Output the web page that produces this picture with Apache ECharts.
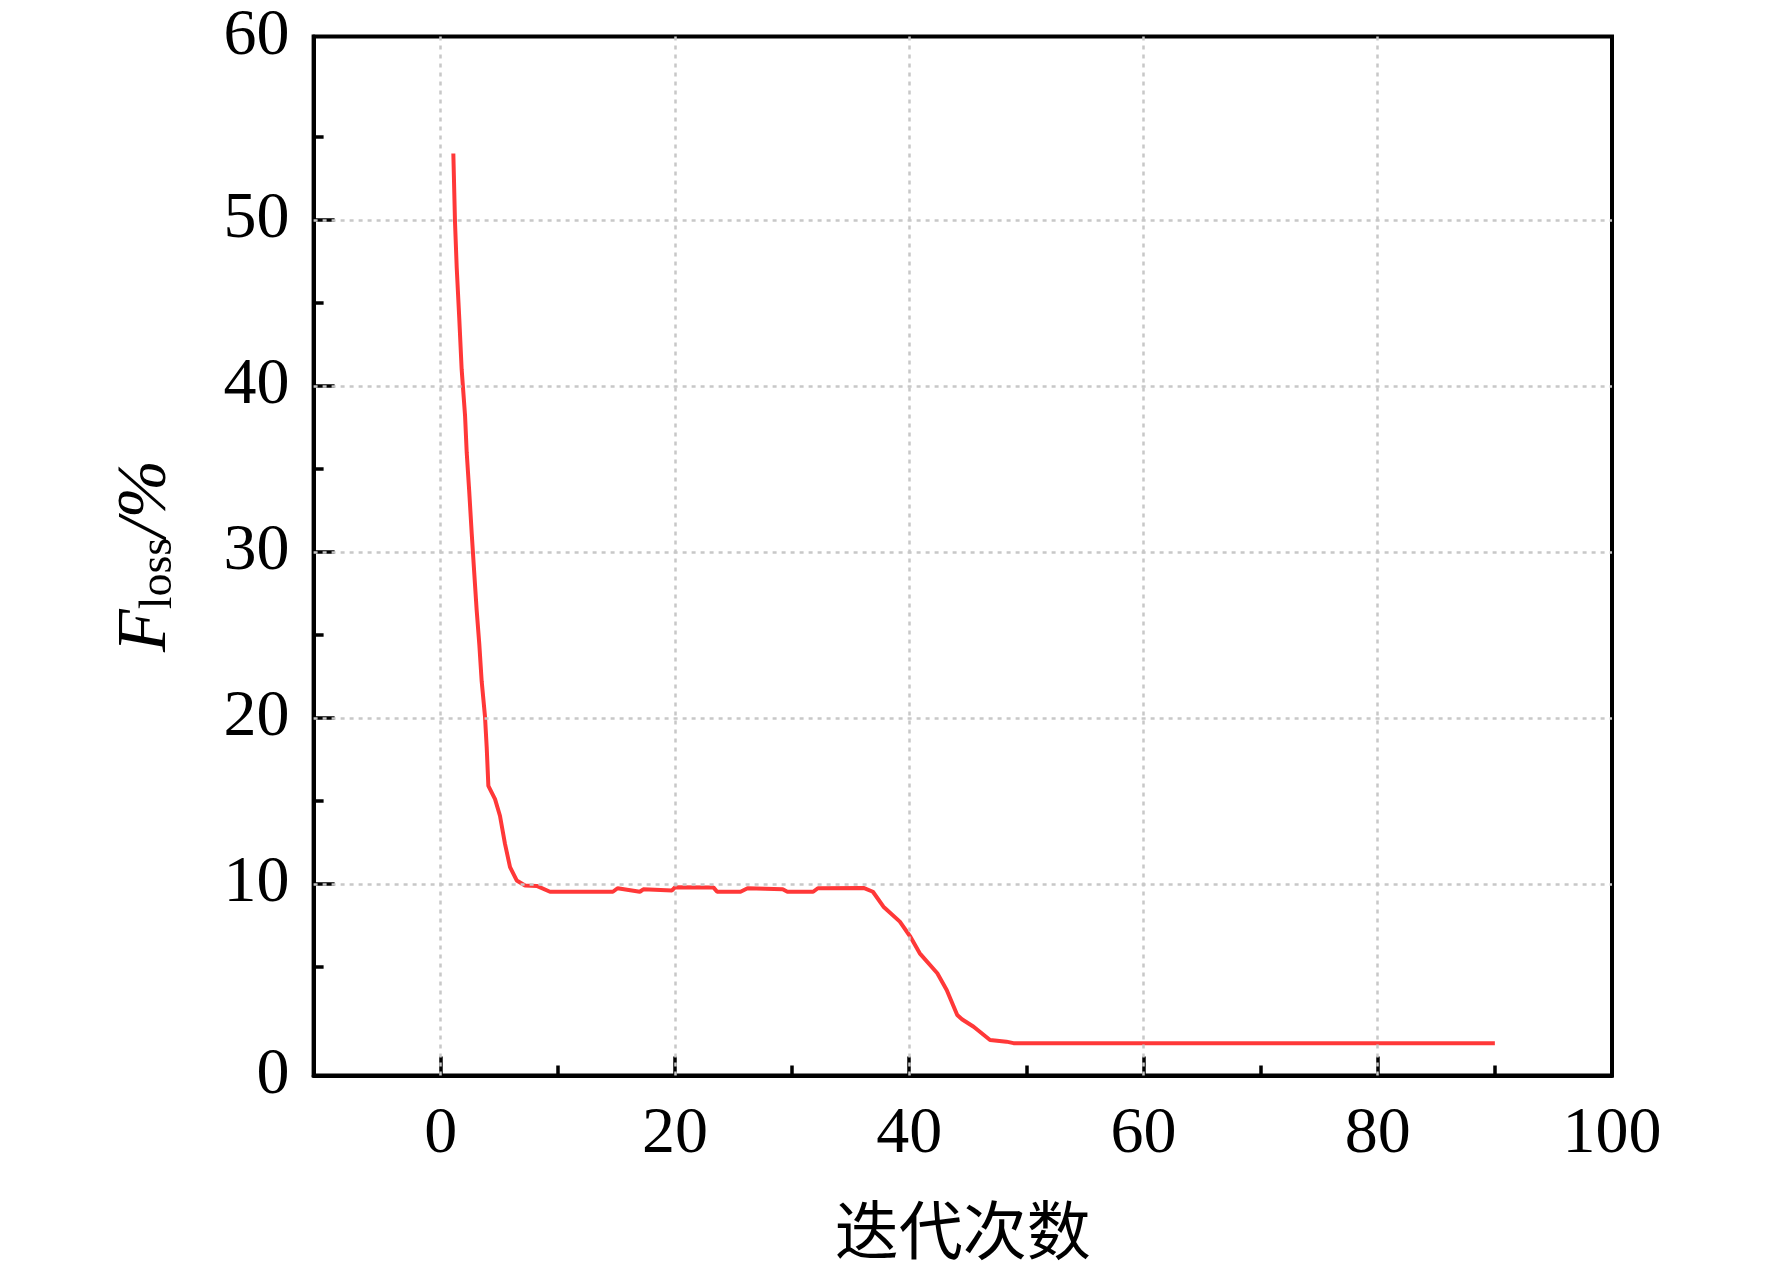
<!DOCTYPE html>
<html>
<head>
<meta charset="utf-8">
<script src="https://cdn.jsdelivr.net/npm/echarts@6/dist/echarts.min.js"></script>
<style>
html,body{margin:0;padding:0;background:#fff;}
#chart{width:1772px;height:1276px;}
</style>
</head>
<body>
<div id="chart"></div>
<script>
// ---- data ----
const iterations = [1.08,1.22,1.37,1.59,1.79,2.08,2.22,2.44,2.65,2.84,3.07,3.30,3.50,3.78,3.93,4.07,4.64,5.06,5.49,5.92,6.49,7.20,8.20,9.33,14.7,15.1,17.0,17.3,19.75,20.0,23.3,23.6,25.6,26.2,29.2,29.6,31.8,32.2,36.1,36.9,37.8,39.2,40.1,40.9,42.4,43.2,44.1,44.5,45.5,46.9,48.3,48.9,90.0];
const lossValues = [54.0,49.9,47.1,44.0,41.0,38.2,36.0,33.6,31.1,29.0,26.5,24.4,22.2,20.1,18.2,15.9,15.1,14.1,12.4,11.0,10.2,9.9,9.87,9.52,9.52,9.73,9.52,9.67,9.6,9.79,9.77,9.52,9.52,9.73,9.67,9.52,9.52,9.73,9.75,9.52,8.62,7.72,6.81,5.81,4.61,3.6,2.1,1.84,1.39,0.59,0.49,0.40,0.40];

const xMajorTicks = [0,20,40,60,80];
const xMinorTicks = [10,30,50,70,90];
const xTickLabels = [0,20,40,60,80,100];
const yMajorTicks = [10,20,30,40,50];
const yMinorTicks = [5,15,25,35,45,55];
const yTickLabelText = ['0','10','20','30','40','50','60'];

const X_MIN = -10.85, X_MAX = 100;
const Y_MIN = -1.55, Y_MAX = 61.04;
const yLabelValues = [Y_MIN,10,20,30,40,50,Y_MAX];

const xName = '迭代次数';

// ---- chart ----
const serif = '"Liberation Serif","Times New Roman",serif';
const black = '#000';
const chart = echarts.init(document.getElementById('chart'), null, {renderer:'canvas'});

const seriesData = iterations.map((x,i)=>[x, lossValues[i]]);

function yLabelFmt(v){
  let best = 0, bd = Infinity;
  yLabelValues.forEach((p,i)=>{ const d=Math.abs(p-v); if(d<bd){bd=d;best=i;} });
  return yTickLabelText[best];
}

const option = {
  backgroundColor:'#fff',
  animation:false,
  grid:{left:313.6,right:160,top:36.6,bottom:200.5,show:true,borderColor:black,borderWidth:4,backgroundColor:'transparent'},
  xAxis:[
    {type:'value',min:X_MIN,max:X_MAX,position:'bottom',
     axisLine:{show:true,onZero:false,lineStyle:{color:black,width:4}},
     axisTick:{show:true,inside:true,length:19,customValues:xMajorTicks,lineStyle:{color:black,width:3.5}},
     axisLabel:{show:true,customValues:xTickLabels,margin:26,color:black,fontFamily:serif,fontSize:66},
     splitLine:{show:false},
     name:xName,nameLocation:'middle',nameGap:122,
     nameTextStyle:{fontFamily:'"Noto Sans CJK SC",sans-serif',fontSize:64,color:black}
    },
    {type:'value',min:X_MIN,max:X_MAX,position:'bottom',
     axisLine:{show:false,onZero:false},
     axisTick:{show:true,inside:true,length:10,customValues:xMinorTicks,lineStyle:{color:black,width:3.5}},
     axisLabel:{show:false},splitLine:{show:false}
    }
  ],
  yAxis:[
    {type:'value',min:Y_MIN,max:Y_MAX,position:'left',
     axisLine:{show:true,onZero:false,lineStyle:{color:black,width:4}},
     axisTick:{show:true,inside:true,length:21,customValues:yMajorTicks,lineStyle:{color:black,width:3.5}},
     axisLabel:{show:true,customValues:yLabelValues,margin:24,color:black,fontFamily:serif,fontSize:66,formatter:yLabelFmt},
     splitLine:{show:false},
     name:'{f|F}{s|loss}{f|/%}',nameLocation:'middle',nameGap:132,nameRotate:90,
     nameTextStyle:{
       rich:{
         f:{fontFamily:serif,fontSize:70,fontStyle:'italic',color:black,lineHeight:70,verticalAlign:'top',padding:[0,0,12,0]},
         s:{fontFamily:serif,fontSize:46,color:black,lineHeight:46,verticalAlign:'bottom'}
       }
     }
    },
    {type:'value',min:Y_MIN,max:Y_MAX,position:'left',
     axisLine:{show:false,onZero:false},
     axisTick:{show:true,inside:true,length:10,customValues:yMinorTicks,lineStyle:{color:black,width:3.5}},
     axisLabel:{show:false},splitLine:{show:false}
    }
  ],
  series:[
    {type:'line',data:[],xAxisIndex:0,yAxisIndex:0,z:1,silent:true,
     markLine:{silent:true,symbol:['none','none'],label:{show:false},animation:false,
       lineStyle:{color:'#c8c8c8',width:2.5,type:[4,5]},
       data: xMajorTicks.map(v=>({xAxis:v})).concat(yMajorTicks.map(v=>({yAxis:v})))
     }
    },
    {type:'line',data:seriesData,xAxisIndex:0,yAxisIndex:0,z:3,
     showSymbol:false,symbol:'none',smooth:false,
     lineStyle:{color:'#ff3838',width:4},
     emphasis:{disabled:true}
    }
  ]
};
chart.setOption(option);
</script>
</body>
</html>
